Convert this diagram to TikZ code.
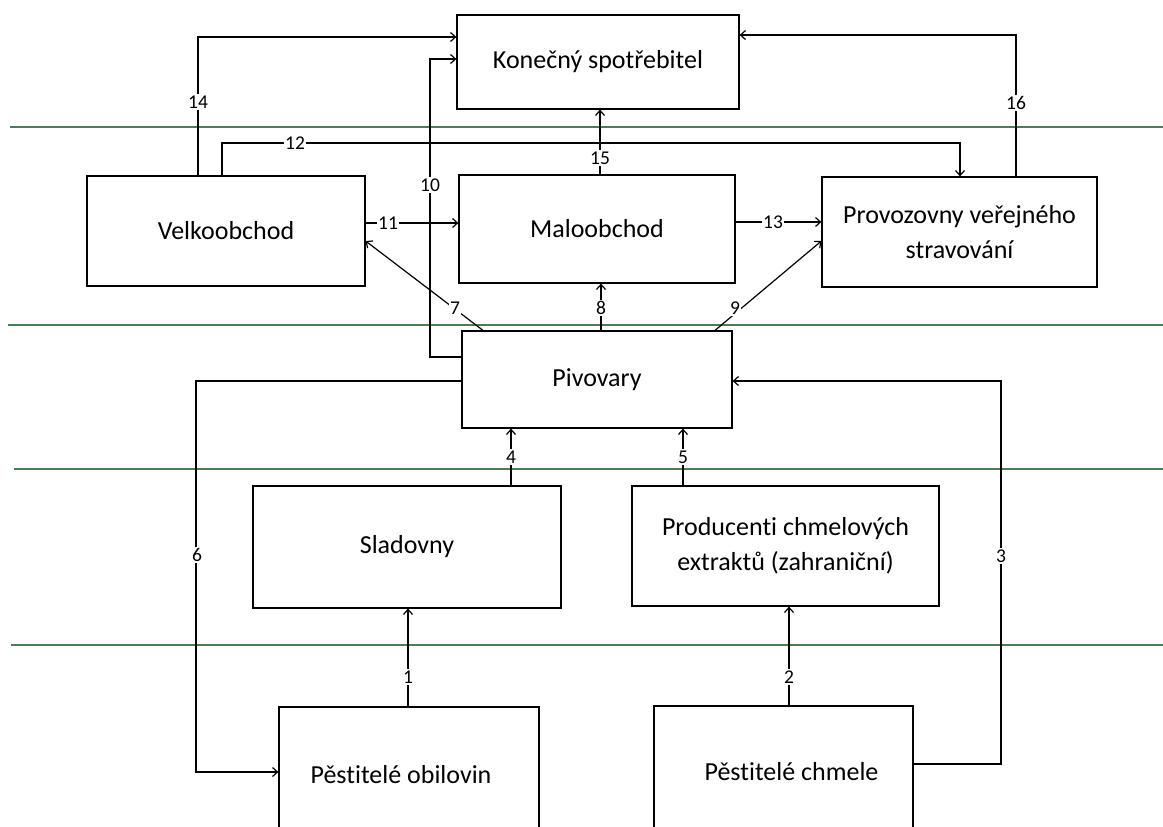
\documentclass[tikz,border=0pt]{standalone}
\usepackage{fontspec}
\setmainfont{Carlito}[Ligatures=NoCommon]
\usetikzlibrary{arrows.meta}
\definecolor{greenline}{RGB}{72,126,88}
\begin{document}
\begin{tikzpicture}[x=1pt,y=-1pt,
 box/.style={draw, line width=1.2pt, inner sep=0pt, font=\fontsize{26}{35}\selectfont, align=center},
 arr/.style={line width=1.2pt, -{Straight Barb[length=5pt,width=9pt]}},
 lab/.style={fill=white, inner sep=1.5pt, font=\fontsize{19.5}{21}\selectfont},
 grn/.style={draw=greenline, line width=1.5pt}]
\useasboundingbox (0,0) rectangle (1163,827);
\clip (0,0) rectangle (1163,827);
\fill[white] (0,0) rectangle (1163,827);
% green level lines
\draw[grn] (10,127) -- (1163,127);
\draw[grn] (8,325) -- (1163,325);
\draw[grn] (14,469) -- (1163,469);
\draw[grn] (11,645) -- (1163,645);
% boxes
\node[box, minimum width=282pt, minimum height=94pt] (kon) at (598,62) {Konečný spotřebitel};
\node[box, minimum width=278pt, minimum height=110pt] (velko) at (226,231) {Velkoobchod};
\node[box, minimum width=276pt, minimum height=108pt] (malo) at (597,229) {Maloobchod};
\node[box, minimum width=275pt, minimum height=110pt] (prov) at (959.5,232) {Provozovny veřejného\\stravování};
\node[box, minimum width=270pt, minimum height=97pt] (piv) at (597,379.5) {Pivovary};
\node[box, minimum width=308pt, minimum height=122pt] (slad) at (407,547) {Sladovny};
\node[box, minimum width=307pt, minimum height=120pt] (prod) at (785.5,546) {Producenti chmelových\\extraktů (zahraniční)};
\node[box, minimum width=260pt, minimum height=136pt] (obil) at (409,775) {\hspace*{-16pt}Pěstitelé obilovin};
\node[box, minimum width=259pt, minimum height=132pt] (chmel) at (783.5,772) {\hspace*{16pt}Pěstitelé chmele};
% helper coordinates
\coordinate (x1) at (408,0);
\coordinate (x2) at (789,0);
\coordinate (c3a) at (1001,764);
\coordinate (c3b) at (1001,381);
\coordinate (x4) at (511,0);
\coordinate (x5) at (683,0);
\coordinate (c6a) at (196,381);
\coordinate (c6b) at (196,772);
\coordinate (x7) at (483,0);
\coordinate (y7) at (0,241);
\coordinate (x8) at (601,0);
\coordinate (x9) at (715,0);
\coordinate (y9) at (0,241);
\coordinate (c10a) at (430,357);
\coordinate (c10b) at (430,59);
\coordinate (y11) at (0,223);
\coordinate (c12a) at (222,143);
\coordinate (c12b) at (960,143);
\coordinate (y13) at (0,222);
\coordinate (c14) at (198,37);
\coordinate (x15) at (600,0);
\coordinate (c16) at (1016,35);
% connectors
\draw[arr] (obil.north -| x1) -- (slad.south -| x1);
\draw[arr] (chmel.north -| x2) -- (prod.south -| x2);
\draw[arr] (chmel.east |- c3a) -- (c3a) -- (c3b) -- (piv.east |- c3b);
\draw[arr] (slad.north -| x4) -- (piv.south -| x4);
\draw[arr] (prod.north -| x5) -- (piv.south -| x5);
\draw[arr] (piv.west |- c6a) -- (c6a) -- (c6b) -- (obil.west |- c6b);
\draw[arr] (piv.north -| x7) -- (velko.east |- y7);
\draw[arr] (piv.north -| x8) -- (malo.south -| x8);
\draw[arr] (piv.north -| x9) -- (prov.west |- y9);
\draw[arr] (piv.west |- c10a) -- (c10a) -- (c10b) -- (kon.west |- c10b);
\draw[arr] (velko.east |- y11) -- (malo.west |- y11);
\draw[arr] (velko.north -| c12a) -- (c12a) -- (c12b) -- (prov.north -| c12b);
\draw[arr] (malo.east |- y13) -- (prov.west |- y13);
\draw[arr] (velko.north -| c14) -- (c14) -- (kon.west |- c14);
\draw[arr] (malo.north -| x15) -- (kon.south -| x15);
\draw[arr] (prov.north -| c16) -- (c16) -- (kon.east |- c16);
% labels
\node[lab] (l1) at (408,677) {1};
\node[lab] (l2) at (789,677) {2};
\node[lab] (l3) at (1001,556) {3};
\node[lab] (l4) at (511,457) {4};
\node[lab] (l5) at (683,457) {5};
\node[lab] (l6) at (197,555) {6};
\node[lab] (l7) at (455,308) {7};
\node[lab] (l8) at (601,308) {8};
\node[lab] (l9) at (735,308) {9};
\node[lab] (l10) at (430,185) {10};
\node[lab] (l11) at (388,223) {11};
\node[lab] (l12) at (295,143) {12};
\node[lab] (l13) at (773,222) {13};
\node[lab] (l14) at (198,102) {14};
\node[lab] (l15) at (600,158) {15};
\node[lab] (l16) at (1016,103) {16};
\end{tikzpicture}
\end{document}
